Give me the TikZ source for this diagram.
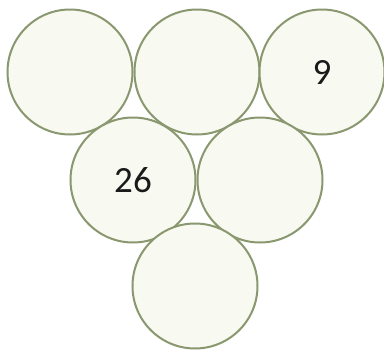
\documentclass[tikz,border=0pt]{standalone}
\usepackage{fontspec}
\setmainfont{Carlito}
\definecolor{ring}{HTML}{8A9870}
\definecolor{disk}{HTML}{F8F9F1}
\definecolor{ink}{HTML}{1A1A1A}
\begin{document}
\begin{tikzpicture}[x=1pt,y=-1pt,
  ball/.style={circle,draw=ring,fill=disk,line width=2pt,minimum size=125pt,inner sep=0pt,
    font=\fontsize{37}{40}\selectfont,text=ink}]
\useasboundingbox[fill=white] (0,0) rectangle (384,351);
\node[ball] (a) at (70,72) {};
\node[ball] (b) at (197,72) {};
\node[ball] (c) at (322,72) {9};
\node[ball] (d) at (133,180) {26};
\node[ball] (e) at (260,180) {};
\node[ball] (f) at (195,286) {};
\end{tikzpicture}
\end{document}
